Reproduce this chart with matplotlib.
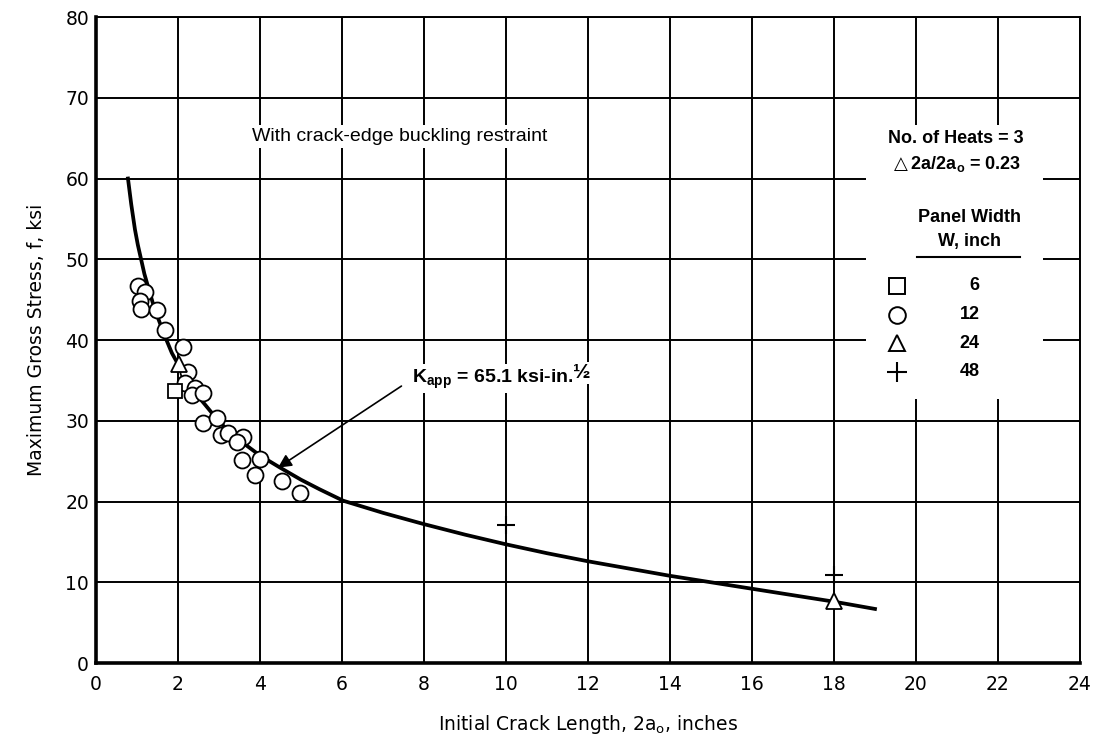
import matplotlib
matplotlib.use("Agg")
import matplotlib.pyplot as plt
from matplotlib.patches import Rectangle
from matplotlib.lines import Line2D

# K_app curve (2a0 in inches, stress in ksi)
curve_x = [0.78, 0.86, 0.95, 1.02, 1.10, 1.18, 1.27, 1.38, 1.50, 1.67, 1.85, 2.10,
           2.41, 2.66, 3.00, 3.39, 4.00, 4.49, 5.00, 5.46, 6.03, 7.0, 8.0, 9.0,
           10.0, 11.0, 12.0, 13.0, 14.0, 15.0, 16.0, 17.0, 18.0, 19.0]
curve_y = [60.0, 56.8, 53.7, 51.8, 50.0, 48.2, 46.6, 44.7, 42.9, 40.6, 38.4, 36.1,
           33.5, 32.0, 29.9, 28.0, 25.7, 24.2, 22.7, 21.5, 20.1, 18.6, 17.2, 15.9,
           14.7, 13.6, 12.6, 11.7, 10.8, 10.0, 9.2, 8.4, 7.6, 6.7]

# panel width 6 in
w6_x = [1.92]
w6_y = [33.7]
# panel width 12 in
w12_x = [1.03, 1.19, 1.07, 1.11, 1.48, 1.68, 2.13, 2.25, 2.17, 2.41, 2.33, 2.61,
         2.61, 2.94, 3.06, 3.22, 3.59, 3.43, 3.55, 4.00, 3.88, 4.53, 4.98]
w12_y = [46.7, 45.9, 44.8, 43.9, 43.7, 41.3, 39.1, 36.1, 34.7, 34.1, 33.2, 33.4,
         29.7, 30.3, 28.2, 28.5, 28.0, 27.4, 25.2, 25.3, 23.3, 22.6, 21.1]
# panel width 24 in
w24_x = [2.02, 18.0]
w24_y = [37.0, 7.7]
# panel width 48 in
w48_x = [10.0, 18.0]
w48_y = [17.1, 10.9]

legend_labels = ["6", "12", "24", "48"]
legend_markers = ["s", "o", "^", "+"]

x_ticks = list(range(0, 25, 2))
y_ticks = list(range(0, 81, 10))

fig = plt.figure(figsize=(10.97, 7.40), dpi=100)
ax = fig.add_axes([0.0875, 0.104, 0.897, 0.873])

ax.set_xlim(0, 24)
ax.set_ylim(0, 80)
ax.set_xticks(x_ticks)
ax.set_yticks(y_ticks)
ax.tick_params(axis="both", length=0, labelsize=13.5)
ax.tick_params(axis="x", pad=8.5)
ax.tick_params(axis="y", pad=5)
ax.set_axisbelow(True)
ax.grid(True, color="black", lw=1.4)
for side in ["top", "right"]:
    ax.spines[side].set_linewidth(1.4)
for side in ["left", "bottom"]:
    ax.spines[side].set_linewidth(2.6)

ax.set_xlabel(r"Initial Crack Length, 2a$_\mathregular{o}$, inches", fontsize=13.5, labelpad=14)
ax.set_ylabel("Maximum Gross Stress, f, ksi", fontsize=13.5, labelpad=14)

# white-out area behind the legend block
ax.add_patch(Rectangle((0.783, 0.409), 0.179, 0.424, transform=ax.transAxes,
                       facecolor="white", edgecolor="none", zorder=1))

ax.plot(curve_x, curve_y, color="black", lw=2.7, zorder=3)

mk = dict(linestyle="none", markerfacecolor="white", markeredgecolor="black",
          markeredgewidth=1.3, zorder=4)
ax.plot(w12_x, w12_y, marker="o", markersize=11.5, **mk)
ax.plot(w6_x, w6_y, marker="s", markersize=10.5, **mk)
ax.plot(w24_x, w24_y, marker="^", markersize=12, **mk)
ax.plot(w48_x, w48_y, marker="+", markersize=13, color="black",
        markeredgewidth=1.5, linestyle="none", zorder=4)

bold = dict(family="Liberation Sans", fontweight="bold")

ax.text(0.309, 0.815, "With crack-edge buckling restraint", transform=ax.transAxes,
        family="Liberation Sans", fontsize=14, ha="center", va="center",
        bbox=dict(facecolor="white", edgecolor="none", pad=2), zorder=5)

# K_app annotation
ax.annotate("", xy=(4.44, 24.2), xytext=(7.45, 34.3),
            arrowprops=dict(arrowstyle="-|>", color="black", lw=1.2,
                            mutation_scale=20, shrinkA=0, shrinkB=0), zorder=5)
ktext = ax.text(7.7, 35.2, r"K$_\mathregular{app}$ = 65.1 ksi-in.",
                fontsize=14, ha="left", va="center", zorder=5,
                bbox=dict(facecolor="white", edgecolor="none", pad=2), **bold)
ax.annotate("½", xy=(1.0, 0.35), xycoords=ktext, fontsize=15, ha="left",
            va="bottom", zorder=5,
            bbox=dict(facecolor="white", edgecolor="none", pad=1), **bold)

# legend block
ax.text(0.874, 0.812, "No. of Heats = 3", transform=ax.transAxes, fontsize=13,
        ha="center", va="center", zorder=5, **bold)
ax.text(0.874, 0.772, r"$\triangle$2a/2a$_\mathregular{o}$ = 0.23", transform=ax.transAxes,
        fontsize=13, ha="center", va="center", zorder=5, **bold)
ax.text(0.888, 0.690, "Panel Width", transform=ax.transAxes, fontsize=13,
        ha="center", va="center", zorder=5, **bold)
ax.text(0.888, 0.652, "W, inch", transform=ax.transAxes, fontsize=13,
        ha="center", va="center", zorder=5, **bold)
ax.add_line(Line2D([0.834, 0.939], [0.628, 0.628], transform=ax.transAxes,
                   color="black", lw=1.5, zorder=5))

legend_y = [0.584, 0.539, 0.495, 0.451]
for lab, m, ly in zip(legend_labels, legend_markers, legend_y):
    if m == "+":
        ax.plot([0.814], [ly], transform=ax.transAxes, marker="+", markersize=14,
                color="black", markeredgewidth=1.5, linestyle="none", zorder=5,
                clip_on=False)
    else:
        ax.plot([0.814], [ly], transform=ax.transAxes, marker=m,
                markersize=12 if m != "s" else 11, linestyle="none",
                markerfacecolor="white", markeredgecolor="black",
                markeredgewidth=1.4, zorder=5, clip_on=False)
    ax.text(0.898, ly, lab, transform=ax.transAxes, fontsize=13,
            ha="right", va="center", zorder=5, **bold)

fig.savefig("out.png", dpi=100)
